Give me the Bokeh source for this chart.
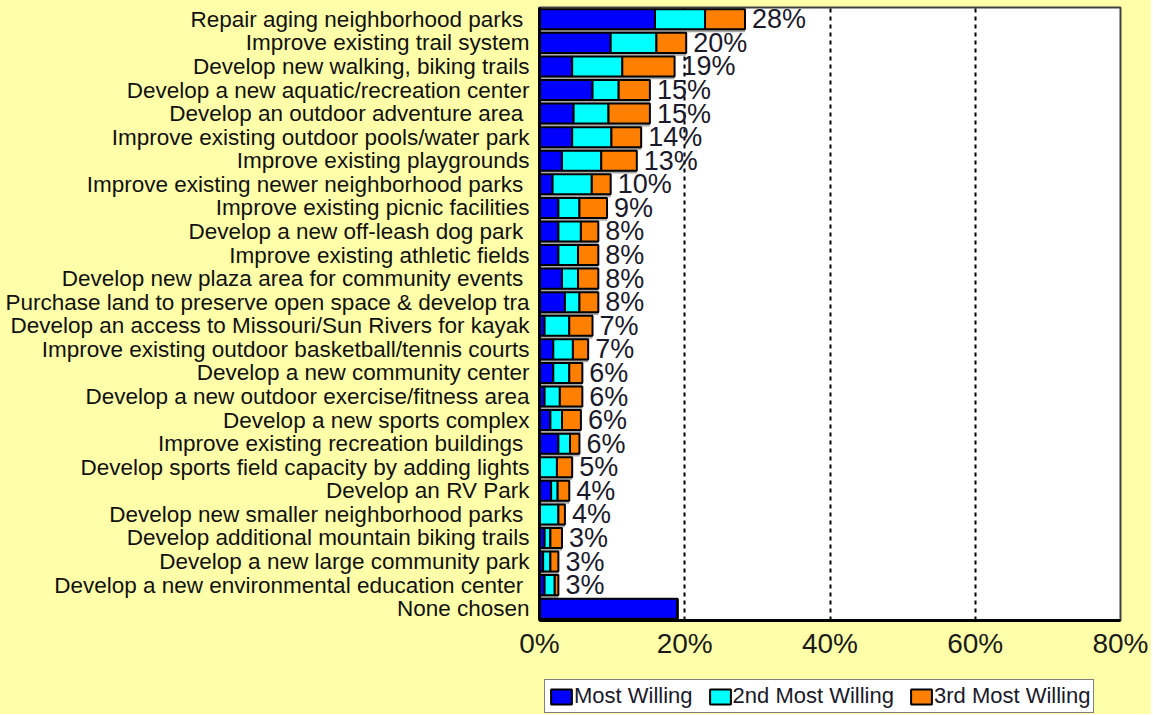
from bokeh.plotting import figure
from bokeh.layouts import column
from bokeh.models import (ColumnDataSource, FactorRange, Range1d, FixedTicker,
                          PrintfTickFormatter, Legend, LegendItem)
from bokeh.transform import dodge
from bokeh.core.properties import value
from bokeh.embed import file_html
from bokeh.resources import INLINE

categories = [
    "Repair aging neighborhood parks ",
    "Improve existing trail system",
    "Develop new walking, biking trails",
    "Develop a new aquatic/recreation center",
    "Develop an outdoor adventure area ",
    "Improve existing outdoor pools/water park",
    "Improve existing playgrounds",
    "Improve existing newer neighborhood parks ",
    "Improve existing picnic facilities",
    "Develop a new off-leash dog park ",
    "Improve existing athletic fields",
    "Develop new plaza area for community events ",
    "Purchase land to preserve open space & develop tra",
    "Develop an access to Missouri/Sun Rivers for kayak",
    "Improve existing outdoor basketball/tennis courts",
    "Develop a new community center",
    "Develop a new outdoor exercise/fitness area",
    "Develop a new sports complex",
    "Improve existing recreation buildings ",
    "Develop sports field capacity by adding lights",
    "Develop an RV Park",
    "Develop new smaller neighborhood parks ",
    "Develop additional mountain biking trails",
    "Develop a new large community park",
    "Develop a new environmental education center ",
    "None chosen",
]
most_willing = [15.9, 9.8, 4.5, 7.3, 4.7, 4.5, 3.1, 1.8, 2.6, 2.6, 2.6, 3.1, 3.5,
                0.7, 1.9, 1.9, 0.7, 1.5, 2.6, 0.0, 1.6, 0.0, 0.7, 0.5, 0.7, 19.0]
second_willing = [6.9, 6.3, 6.9, 3.6, 4.8, 5.4, 5.4, 5.4, 2.9, 3.1, 2.7, 2.2, 2.0,
                  3.4, 2.7, 2.2, 2.1, 1.6, 1.6, 2.4, 0.9, 2.6, 0.8, 1.0, 1.4, 0.0]
third_willing = [5.5, 4.1, 7.2, 4.3, 5.7, 4.1, 4.9, 2.6, 3.8, 2.4, 2.8, 2.8, 2.6,
                 3.2, 2.1, 1.8, 3.1, 2.6, 1.3, 2.1, 1.6, 0.9, 1.6, 1.1, 0.5, 0.0]
total_labels = ["28%", "20%", "19%", "15%", "15%", "14%", "13%", "10%", "9%", "8%",
                "8%", "8%", "8%", "7%", "7%", "6%", "6%", "6%", "6%", "5%", "4%",
                "4%", "3%", "3%", "3%", ""]
series_names = ["Most Willing", "2nd Most Willing", "3rd Most Willing"]
x_ticks = [0, 20, 40, 60, 80]

FONT = "Liberation Sans"
BG = "#FFFFAA"
colors = ["#0000FF", "#00FFFF", "#FF8000"]

totals = [a + b + c for a, b, c in zip(most_willing, second_willing, third_willing)]
src = ColumnDataSource(dict(cat=categories, m=most_willing, s=second_willing,
                            t=third_willing, total=totals, lab=total_labels))

LEFT, RIGHT, FW = 539, 31, 581

p = figure(y_range=FactorRange(*categories[::-1]), x_range=Range1d(0, 80),
           frame_width=FW, frame_height=613,
           min_border_left=LEFT, min_border_right=RIGHT, min_border_top=7,
           min_border_bottom=54,
           output_backend="svg", toolbar_location=None,
           background_fill_color="white", border_fill_color=BG)
p.outline_line_color = "#404040"
p.outline_line_width = 2

# shadows
p.hbar(y=dodge("cat", -0.12, range=p.y_range), left=0, right="total", height=0.85,
       source=src, fill_color="#a8a8a8", line_color=None)

rs = p.hbar_stack(["m", "s", "t"], y="cat", height=0.85, source=src,
                  color=colors, line_color="black", line_width=2)
for r, c in zip(rs, colors):
    r.glyph.fill_color = c
    r.glyph.line_color = "black"

p.text(x="total", y="cat", text="lab", source=src, x_offset=7,
       text_align="left", text_baseline="middle", text_font=value(FONT),
       text_font_size="27px", text_color="#1a1a2a")

# axes
p.xaxis.ticker = FixedTicker(ticks=x_ticks)
p.xaxis.formatter = PrintfTickFormatter(format="%d%%")
p.xaxis.major_label_text_font = FONT
p.xaxis.major_label_text_font_size = "28px"
p.xaxis.major_label_text_color = "#1a1a1a"
p.xaxis.major_label_standoff = 7
p.xaxis.major_tick_out = 0
p.xaxis.major_tick_in = 0
p.xaxis.minor_tick_out = 0
p.xaxis.minor_tick_in = 0
p.xaxis.axis_line_width = 3
p.xaxis.axis_line_color = "black"

p.yaxis.major_label_text_font = FONT
p.yaxis.major_label_text_font_size = "22.5px"
p.yaxis.major_label_text_color = "#111111"
p.yaxis.major_label_standoff = 10
p.yaxis.major_tick_out = 0
p.yaxis.major_tick_in = 0
p.yaxis.axis_line_width = 3
p.yaxis.axis_line_color = "black"

p.ygrid.grid_line_color = None
p.xgrid.grid_line_color = "black"
p.xgrid.grid_line_dash = "4 4"
p.xgrid.grid_line_width = 2

# legend strip below the chart
lg = figure(frame_width=FW, frame_height=40, min_border_left=LEFT,
            min_border_right=RIGHT, min_border_top=0, min_border_bottom=0,
            output_backend="svg", toolbar_location=None,
            background_fill_color=BG, border_fill_color=BG,
            x_range=Range1d(0, 1), y_range=Range1d(0, 1))
lg.outline_line_color = None
lg.xaxis.visible = False
lg.yaxis.visible = False
lg.xgrid.visible = False
lg.ygrid.visible = False
hidden = ColumnDataSource(dict(y=[float("nan")], left=[float("nan")], right=[float("nan")]))
dummies = [lg.hbar(y="y", left="left", right="right", height=1, source=hidden,
                   fill_color=c, line_color="black", line_width=2) for c in colors]
legend = Legend(items=[LegendItem(label=n, renderers=[r]) for n, r in zip(series_names, dummies)],
                orientation="horizontal", location="top_left",
                label_text_font=FONT, label_text_font_size="22px",
                label_text_color="#1a1a2a", glyph_width=26, glyph_height=19,
                label_standoff=0, spacing=14, padding=3, margin=5,
                border_line_color="black", border_line_width=1.5,
                background_fill_color="white", background_fill_alpha=1.0,
                label_height=20)
lg.add_layout(legend, "center")

layout = column(p, lg, spacing=0, styles={"background-color": BG})
open("out.html", "w").write(file_html(layout, INLINE))
